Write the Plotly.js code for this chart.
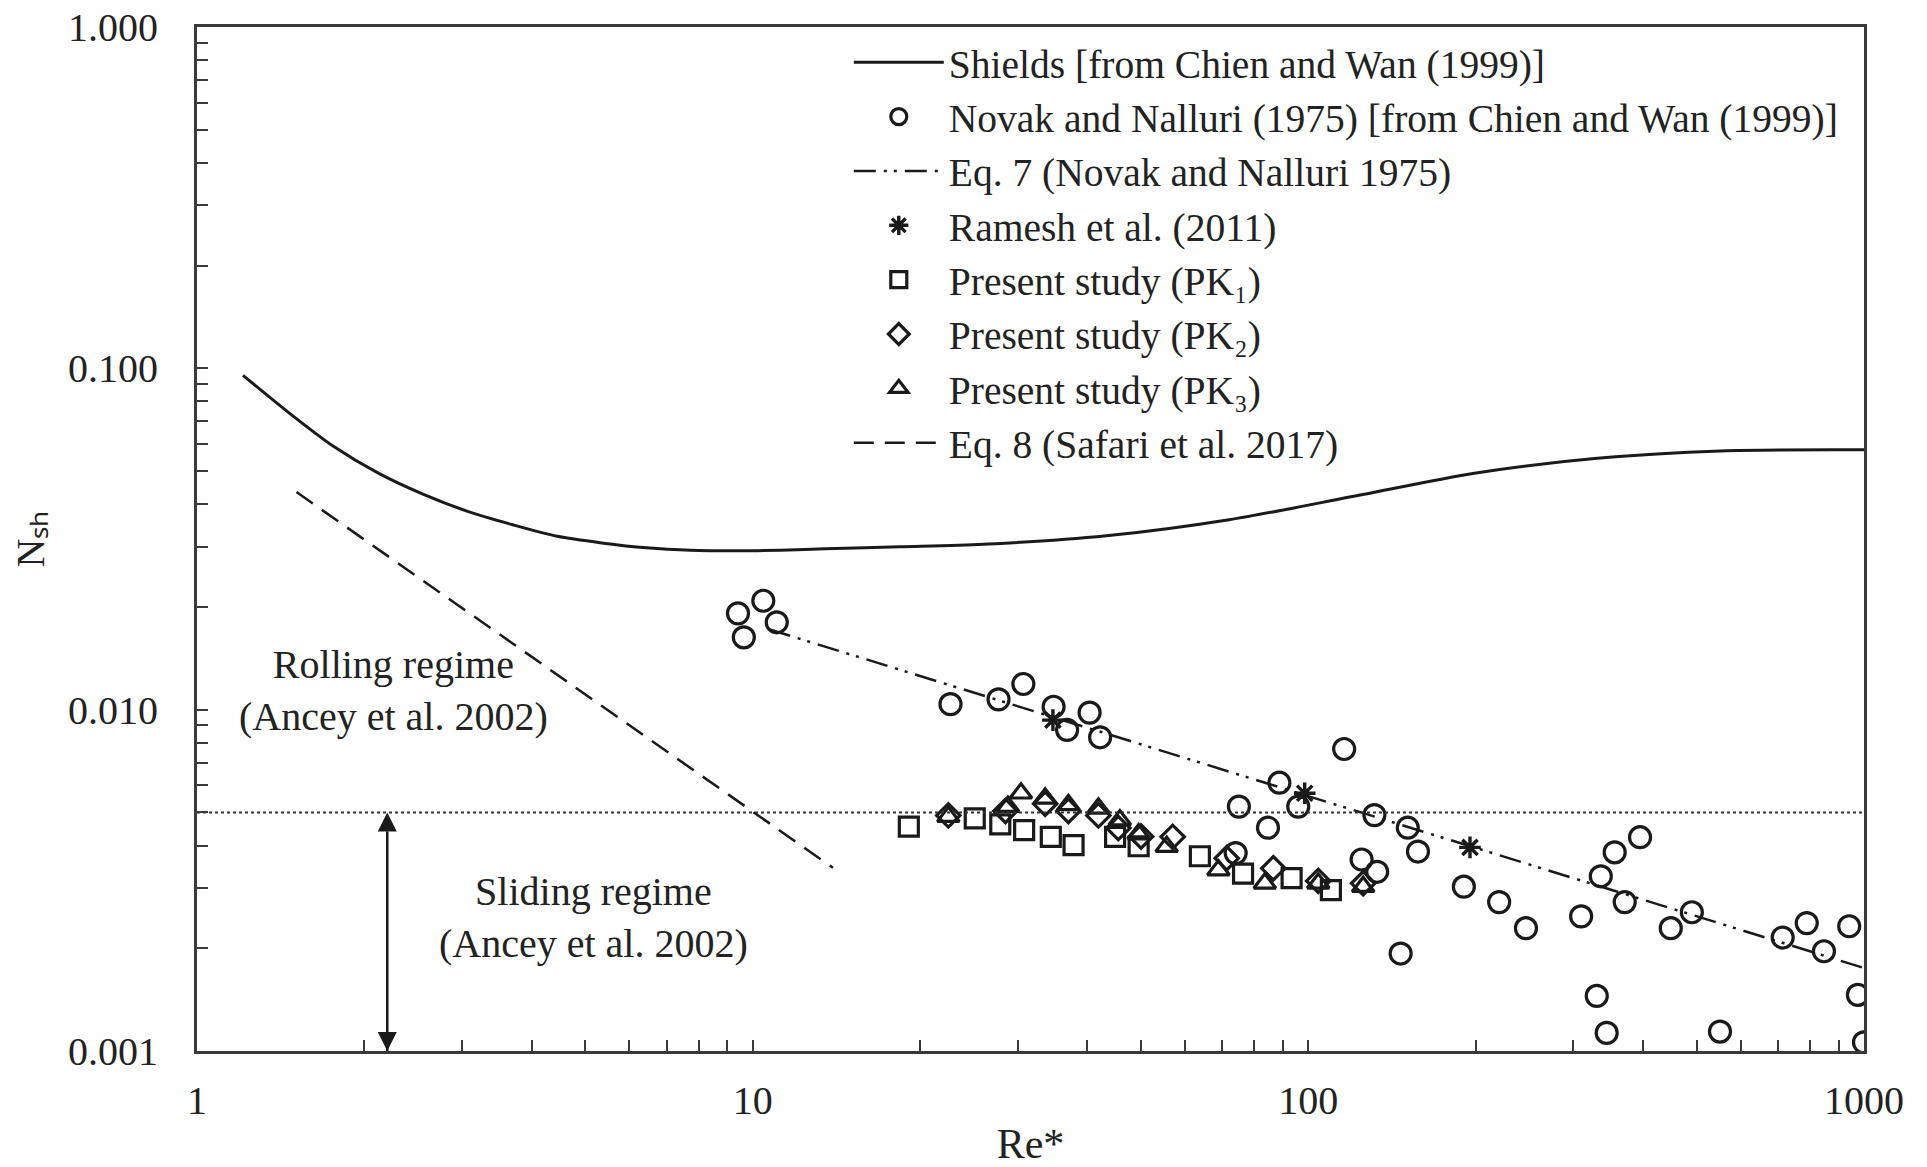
<!DOCTYPE html>
<html>
<head>
<meta charset="utf-8">
<script src="https://cdn.plot.ly/plotly-3.0.1.min.js"></script>
<style>
  html, body { margin: 0; padding: 0; background: #ffffff; }
  #chart { width: 1927px; height: 1167px; }
</style>
</head>
<body>
<div id="chart"></div>
<script>
// Shields curve [from Chien and Wan (1999)]
const shieldsRe = [1.21, 1.47, 1.76, 2.12, 2.55, 3.07, 3.70, 4.45, 5.35, 6.44, 7.74, 9.32, 11.2, 13.5, 18.4, 26, 43.3, 72, 120, 199, 331, 552, 1000];
const shieldsN  = [0.0954, 0.0737, 0.0591, 0.0493, 0.0428, 0.0381, 0.0348, 0.0322, 0.0308, 0.0298, 0.0293, 0.0292, 0.0293, 0.0296, 0.0300, 0.0305, 0.0323, 0.0360, 0.0421, 0.0493, 0.0545, 0.0573, 0.0577];

// Novak and Nalluri (1975) measurements
const novakRe = [9.41, 10.45, 11.05, 9.64, 22.7, 27.7, 30.7, 34.8, 36.8, 40.4, 42.2, 74, 75, 84.6, 88.7, 95.9, 116, 124.7, 131.5, 133, 146.6, 151, 157.5, 190.5, 220.5, 246.4, 309.7, 330.4, 336, 344.3, 355.9, 371, 395.3, 449, 490, 550.6, 714, 788.8, 847, 940.5, 975, 1000];
const novakN  = [0.01915, 0.02085, 0.01803, 0.01629, 0.01038, 0.01072, 0.01189, 0.01020, 0.00872, 0.00980, 0.00830, 0.00380, 0.00520, 0.00451, 0.00611, 0.00520, 0.00767, 0.00364, 0.00491, 0.00335, 0.00193, 0.00451, 0.00384, 0.00303, 0.00273, 0.00229, 0.00248, 0.00145, 0.00325, 0.00113, 0.00382, 0.00273, 0.00423, 0.00229, 0.00255, 0.00114, 0.00215, 0.00237, 0.00196, 0.00232, 0.00146, 0.00106];

// Eq. 7 (Novak and Nalluri 1975), straight line on log-log axes
const eq7Re = [10.7, 1000];
const eq7N  = [0.0172, 0.00175];

// Ramesh et al. (2011)
const rameshRe = [34.7, 98.5, 195.4];
const rameshN  = [0.00932, 0.00569, 0.00395];

// Present study
const pk1Re = [19.1, 25.1, 27.9, 30.8, 34.4, 37.8, 44.9, 49.5, 63.8, 76.3, 93.3, 109.8];
const pk1N  = [0.00454, 0.00480, 0.00461, 0.00444, 0.00424, 0.00401, 0.00424, 0.00398, 0.00372, 0.00331, 0.00321, 0.00296];
const pk2Re = [22.5, 28.5, 33.6, 37.0, 41.9, 45.5, 50.0, 57.0, 71.3, 86.5, 104.2, 125.5];
const pk2N  = [0.00490, 0.00505, 0.00530, 0.00505, 0.00490, 0.00450, 0.00425, 0.00424, 0.00367, 0.00343, 0.00315, 0.00310];
const pk3Re = [22.5, 28.8, 30.4, 33.6, 37.0, 41.9, 45.8, 49.5, 55.6, 68.9, 83.5, 104.2, 125.5];
const pk3N  = [0.00486, 0.00520, 0.00569, 0.00550, 0.00526, 0.00514, 0.00475, 0.00432, 0.00397, 0.00339, 0.00310, 0.00310, 0.00303];

// Eq. 8 (Safari et al. 2017)
const eq8Re = [1.51, 13.95];
const eq8N  = [0.0434, 0.00344];

// Rolling / sliding boundary (Ancey et al. 2002)
const thresholdRe = [1, 1000];
const thresholdN  = [0.005, 0.005];
const arrowRe = [2.2, 2.2];
const arrowN  = [0.001, 0.005];

// Axis labels
const xMajor = [1, 10, 100, 1000];
const xMajorText = ['1', '10', '100', '1000'];
const yMajor = [0.001, 0.01, 0.1, 1];
const yMajorText = ['0.001', '0.010', '0.100', '1.000'];

// Unlabelled 2..9 ticks inside each decade
function minorTicks(major) {
  const vals = [];
  for (let i = 0; i < major.length - 1; i++) {
    for (let k = 2; k <= 9; k++) vals.push(major[i] * k);
  }
  return vals;
}

const ink = '#1a1a1a';
const serif = 'Liberation Serif, Times New Roman, serif';

const traces = [
  { x: shieldsRe, y: shieldsN, mode: 'lines', name: 'Shields [from Chien and Wan (1999)]',
    line: { color: ink, width: 3, shape: 'spline', smoothing: 0.8 } },
  { x: novakRe, y: novakN, mode: 'markers', name: 'Novak and Nalluri (1975) [from Chien and Wan (1999)]',
    marker: { symbol: 'circle-open', size: 21, color: ink, line: { width: 3.2, color: ink } } },
  { x: eq7Re, y: eq7N, mode: 'lines', name: 'Eq. 7 (Novak and Nalluri 1975)',
    line: { color: ink, width: 2.5, dash: '22px,8px,3px,7px,3px,8px' } },
  { x: rameshRe, y: rameshN, mode: 'markers', name: 'Ramesh et al. (2011)',
    marker: { symbol: 'asterisk-open', size: 18, color: ink, line: { width: 3.4, color: ink } } },
  { x: pk1Re, y: pk1N, mode: 'markers', name: 'Present study (PK\u2081)',
    marker: { symbol: 'square-open', size: 19, color: ink, line: { width: 3.2, color: ink } } },
  { x: pk2Re, y: pk2N, mode: 'markers', name: 'Present study (PK\u2082)',
    marker: { symbol: 'diamond-open', size: 18, color: ink, line: { width: 3.2, color: ink } } },
  { x: pk3Re, y: pk3N, mode: 'markers', name: 'Present study (PK\u2083)',
    marker: { symbol: 'triangle-up-open', size: 19, color: ink, line: { width: 3.2, color: ink } } },
  { x: eq8Re, y: eq8N, mode: 'lines', name: 'Eq. 8 (Safari et al. 2017)',
    line: { color: ink, width: 2.5, dash: '20px,11px' } },
  { x: thresholdRe, y: thresholdN, mode: 'lines', showlegend: false, hoverinfo: 'skip',
    line: { color: '#333', width: 2, dash: 'dot' } },
  // double-headed arrow spanning the sliding regime
  { x: arrowRe, y: arrowN, mode: 'lines+markers', showlegend: false, hoverinfo: 'skip', cliponaxis: false,
    line: { color: ink, width: 2.5 },
    marker: { symbol: ['arrow-down', 'arrow-up'], size: 19, color: ink, line: { width: 0 } } }
];

const axisCommon = {
  type: 'log',
  showgrid: false, zeroline: false,
  showline: true, linecolor: '#3a3a3a', linewidth: 3, mirror: true,
  ticks: 'inside', ticklen: 11, tickwidth: 2, tickcolor: '#3a3a3a',
  tickmode: 'array',
  tickfont: { family: serif, size: 40, color: '#222' }
};

const layout = {
  width: 1927, height: 1167,
  paper_bgcolor: '#ffffff', plot_bgcolor: '#ffffff',
  margin: { l: 197, r: 63, t: 27, b: 116, pad: 0 },
  showlegend: true,
  legend: {
    x: 0.391, xanchor: 'left', y: 0.997, yanchor: 'top',
    bgcolor: 'rgba(0,0,0,0)', borderwidth: 0,
    font: { family: serif, size: 39.5, color: '#222' },
    itemwidth: 90, tracegroupgap: 0
  },
  xaxis: Object.assign({}, axisCommon, {
    range: [0, 3], tickvals: xMajor, ticktext: xMajorText, ticklabelstandoff: 12,
    minor: { tickmode: 'array', tickvals: minorTicks(xMajor), ticks: 'inside', ticklen: 11, tickwidth: 2, tickcolor: '#3a3a3a', showgrid: false },
    title: { text: 'Re*', font: { family: serif, size: 42, color: '#222' }, standoff: 32 }
  }),
  yaxis: Object.assign({}, axisCommon, {
    range: [-3, 0], tickvals: yMajor, ticktext: yMajorText, ticklabelstandoff: 28,
    minor: { tickmode: 'array', tickvals: minorTicks(yMajor), ticks: 'inside', ticklen: 11, tickwidth: 2, tickcolor: '#3a3a3a', showgrid: false },
    title: { text: 'N\u209B\u2095', font: { family: serif, size: 40, color: '#222' }, standoff: 12 }
  }),
  annotations: [
    { xref: 'paper', yref: 'paper', x: 0.1176, y: 0.3516, xanchor: 'center', yanchor: 'middle', showarrow: false,
      text: 'Rolling regime<br>(Ancey et al. 2002)', align: 'center',
      font: { family: serif, size: 40, color: '#222' } },
    { xref: 'paper', yref: 'paper', x: 0.2379, y: 0.1299, xanchor: 'center', yanchor: 'middle', showarrow: false,
      text: 'Sliding regime<br>(Ancey et al. 2002)', align: 'center',
      font: { family: serif, size: 40, color: '#222' } }
  ]
};

Plotly.newPlot('chart', traces, layout, { displayModeBar: false, staticPlot: true });
</script>
</body>
</html>
